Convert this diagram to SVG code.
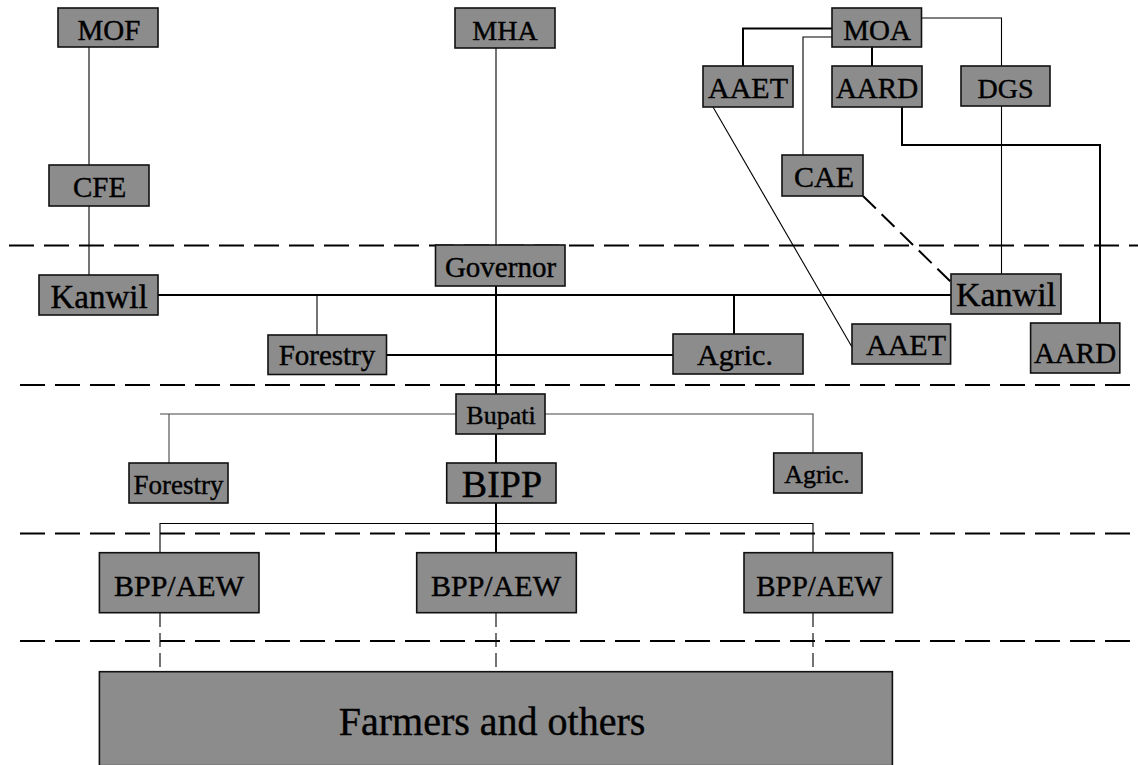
<svg xmlns="http://www.w3.org/2000/svg" width="1138" height="765" viewBox="0 0 1138 765">
<style>
.bg{fill:#fff}
.box{fill:#8c8c8c;stroke:#111;stroke-width:1.6}
.lbl{font-family:"Liberation Serif","Times New Roman",serif;fill:#000;stroke:#000;stroke-width:0.4;text-anchor:middle}
.sep{stroke:#000;stroke-width:2;stroke-dasharray:25 10;fill:none}
.c{stroke:#000;stroke-width:1.1;fill:none}
.t{stroke-width:2}
.g{stroke:#444}
.d{stroke-dasharray:18 8}
.dd{stroke-dasharray:14 6}
</style>
<rect class="bg" x="0" y="0" width="1138" height="765"/>
<g id="separators">
<line class="sep" x1="9" y1="245.5" x2="1138" y2="245.5"/>
<line class="sep" x1="20" y1="385" x2="1138" y2="385"/>
<line class="sep" x1="20" y1="533.5" x2="1138" y2="533.5"/>
<line class="sep" x1="20" y1="641" x2="1138" y2="641"/>
</g>
<g id="connectors">
<path class="c" d="M89 47V165"/>
<path class="c" d="M89 206V275"/>
<path class="c" d="M496 48V245"/>
<path class="c t" d="M158 295H951"/>
<path class="c" d="M317 295V335"/>
<path class="c t" d="M734 295V334"/>
<path class="c t" d="M386 355H673"/>
<path class="c t" d="M496 286V553"/>
<path class="c g" d="M160 414H813V453"/>
<path class="c g" d="M169 414V463"/>
<path class="c" d="M160 553V523.5H813V553"/>
<path class="c dd" d="M160 613V672"/>
<path class="c dd" d="M496 613V672"/>
<path class="c dd" d="M813 613V672"/>
<path class="c t" d="M832 28.5H743V66"/>
<path class="c" d="M832 37H803V155"/>
<path class="c t" d="M872 47V66"/>
<path class="c" d="M921.5 18H1001.5V66"/>
<path class="c" d="M1001.5 106V274"/>
<path class="c t" d="M902 107V145H1100V323"/>
<path class="c" d="M713 107L852 347"/>
<path class="c t d" d="M863 196L951 282"/>
</g>
<g id="n-mof"><rect class="box" x="58" y="8" width="100" height="39"/><text class="lbl" x="109" y="40" font-size="29">MOF</text></g>
<g id="n-mha"><rect class="box" x="455" y="8" width="100" height="40"/><text class="lbl" x="505" y="40" font-size="28">MHA</text></g>
<g id="n-moa"><rect class="box" x="832" y="8" width="89.5" height="39"/><text class="lbl" x="877" y="40" font-size="29">MOA</text></g>
<g id="n-aaet1"><rect class="box" x="703" y="66" width="90" height="41"/><text class="lbl" x="748" y="98" font-size="30">AAET</text></g>
<g id="n-aard1"><rect class="box" x="832" y="66" width="90" height="41"/><text class="lbl" x="877" y="98" font-size="29">AARD</text></g>
<g id="n-dgs"><rect class="box" x="961" y="66" width="89" height="40"/><text class="lbl" x="1005.5" y="98" font-size="28">DGS</text></g>
<g id="n-cae"><rect class="box" x="782" y="155" width="81" height="41"/><text class="lbl" x="824" y="187" font-size="30">CAE</text></g>
<g id="n-cfe"><rect class="box" x="49" y="165" width="100" height="41"/><text class="lbl" x="99.5" y="197" font-size="29">CFE</text></g>
<g id="n-governor"><rect class="box" x="435.5" y="245" width="129.5" height="41"/><text class="lbl" x="500.5" y="277" font-size="29">Governor</text></g>
<g id="n-kanwil1"><rect class="box" x="39" y="275" width="119" height="40"/><text class="lbl" x="99" y="308" font-size="33">Kanwil</text></g>
<g id="n-kanwil2"><rect class="box" x="951" y="274" width="110" height="40"/><text class="lbl" x="1006" y="306" font-size="34">Kanwil</text></g>
<g id="n-forestry1"><rect class="box" x="268" y="335" width="118.5" height="39.5"/><text class="lbl" x="327" y="365" font-size="29">Forestry</text></g>
<g id="n-agric1"><rect class="box" x="673" y="334" width="130" height="40"/><text class="lbl" x="735" y="365" font-size="30">Agric.</text></g>
<g id="n-aaet2"><rect class="box" x="852" y="324" width="98.6" height="40"/><text class="lbl" x="906" y="355" font-size="30">AAET</text></g>
<g id="n-aard2"><rect class="box" x="1030.6" y="323" width="89.2" height="50"/><text class="lbl" x="1075" y="363" font-size="29">AARD</text></g>
<g id="n-bupati"><rect class="box" x="456" y="394" width="89" height="40"/><text class="lbl" x="501" y="424" font-size="26">Bupati</text></g>
<g id="n-forestry2"><rect class="box" x="129" y="463" width="99" height="40"/><text class="lbl" x="178.5" y="494" font-size="27">Forestry</text></g>
<g id="n-bipp"><rect class="box" x="446.7" y="463" width="109.3" height="40"/><text class="lbl" x="502" y="497" font-size="38">BIPP</text></g>
<g id="n-agric2"><rect class="box" x="773.7" y="453" width="88.3" height="40"/><text class="lbl" x="817" y="483" font-size="26">Agric.</text></g>
<g id="n-bpp1"><rect class="box" x="99.4" y="552.7" width="159.6" height="60"/><text class="lbl" x="179" y="596" font-size="30">BPP/AEW</text></g>
<g id="n-bpp2"><rect class="box" x="416.7" y="552.7" width="159.6" height="60"/><text class="lbl" x="496" y="596" font-size="30">BPP/AEW</text></g>
<g id="n-bpp3"><rect class="box" x="744" y="552.7" width="148.5" height="60"/><text class="lbl" x="819" y="596" font-size="29">BPP/AEW</text></g>
<g id="n-farmers"><rect class="box" x="99.4" y="671.7" width="793" height="94"/><text class="lbl" x="492" y="735" font-size="40">Farmers and others</text></g>
</svg>
